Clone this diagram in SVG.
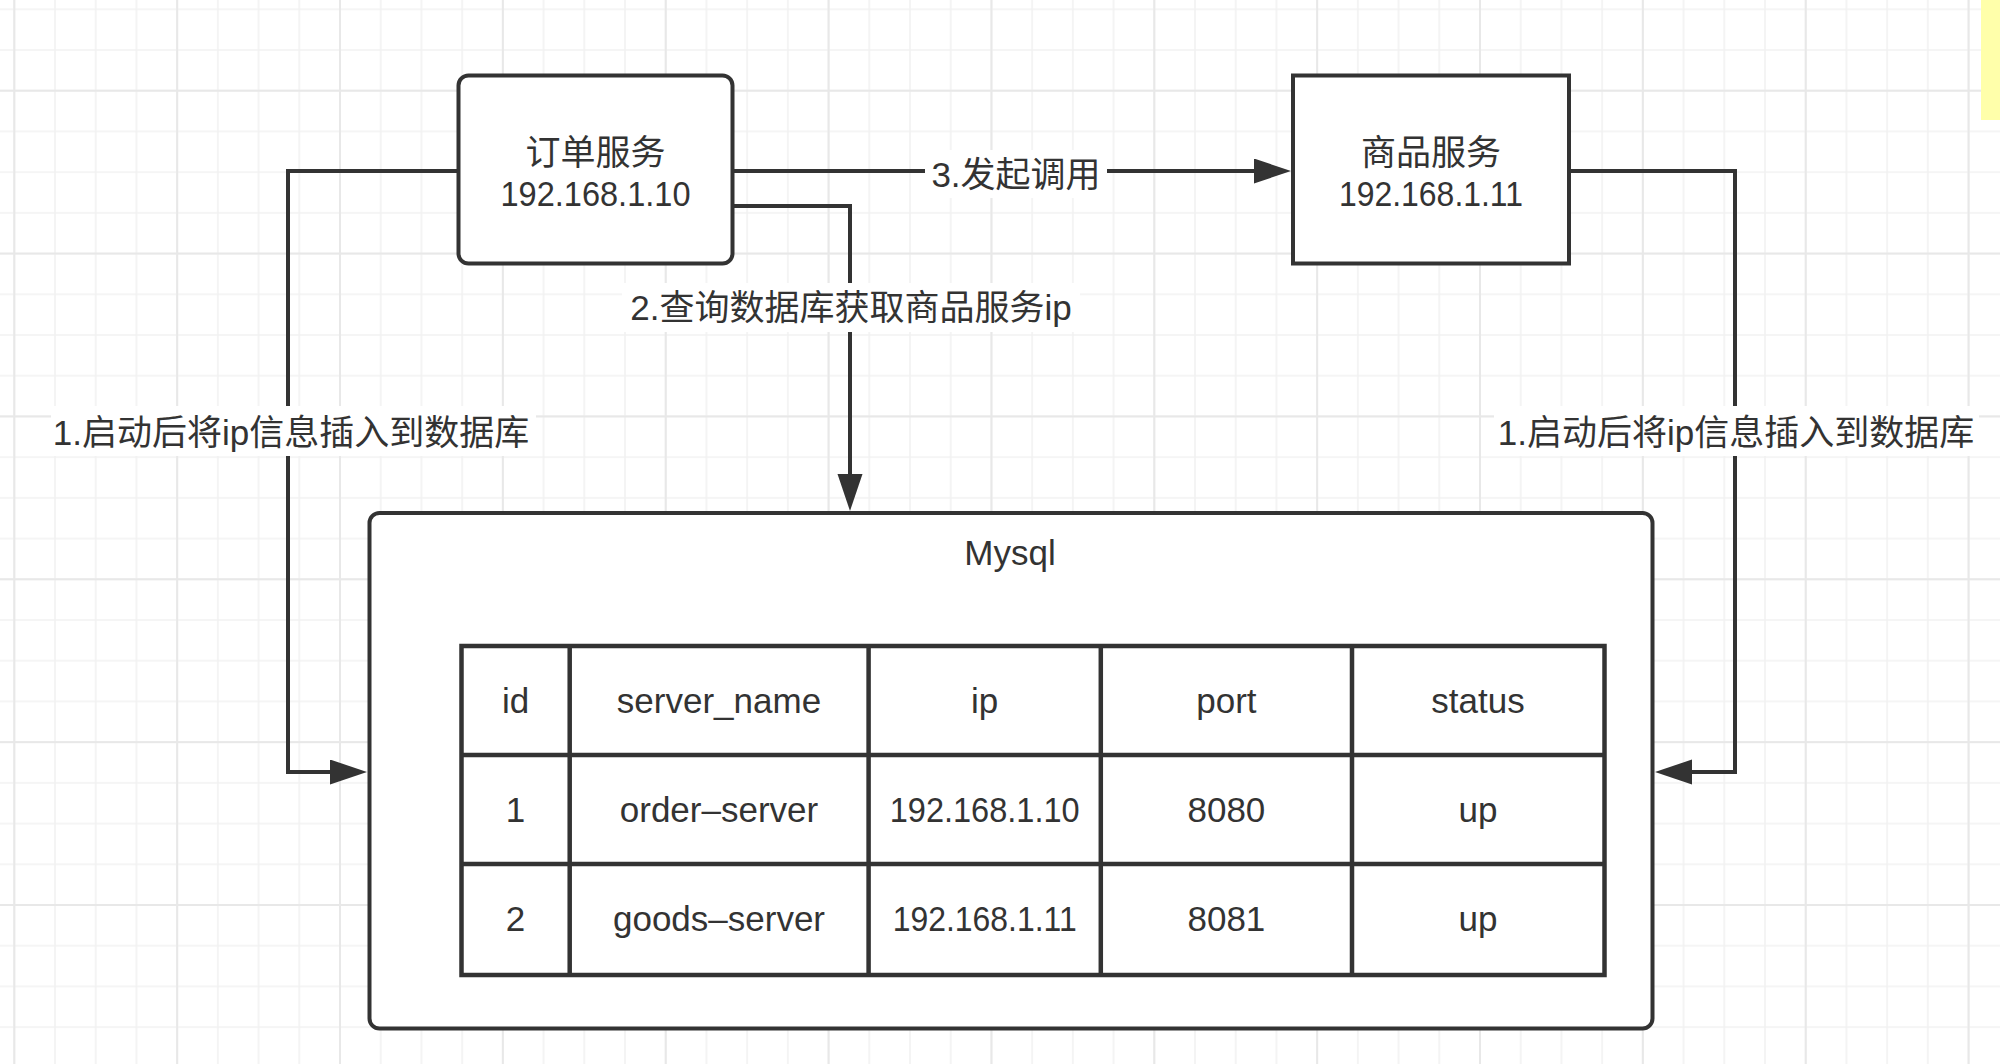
<svg xmlns="http://www.w3.org/2000/svg" width="2000" height="1064" viewBox="0 0 2000 1064">
<defs>
<style>
.t{font-family:"Liberation Sans","Noto Sans CJK SC",sans-serif;font-size:35px;fill:#333333;text-anchor:middle}
.box{fill:#ffffff;stroke:#333333;stroke-width:4}
.conn{fill:none;stroke:#333333;stroke-width:4}
.lbl{fill:#ffffff}
.grid{fill:none;stroke:#333333;stroke-width:4.5}
</style>
<pattern id="gMinor" patternUnits="userSpaceOnUse" x="13.3" y="8.3" width="40.714" height="40.714">
<path d="M1 0V40.714M0 1H40.714" fill="none" stroke="#f2f2f2" stroke-width="1.6"/>
</pattern>
<pattern id="gMajor" patternUnits="userSpaceOnUse" x="13.3" y="-73.157" width="162.857" height="162.857">
<path d="M1 0V162.857M0 1H162.857" fill="none" stroke="#e8e8e8" stroke-width="2"/>
</pattern>
<marker id="arrow" markerUnits="userSpaceOnUse" markerWidth="40" markerHeight="26" refX="2" refY="12.5" orient="auto" viewBox="0 0 40 26">
<path d="M0 0L37 12.5L0 25Z" fill="#333333"/>
</marker>
</defs>
<rect x="0" y="0" width="2000" height="1064" fill="#ffffff"/>
<rect x="0" y="0" width="2000" height="1064" fill="url(#gMinor)"/>
<rect x="0" y="0" width="2000" height="1064" fill="url(#gMajor)"/>
<rect x="1981" y="0" width="19" height="120" fill="#ffffaa"/>

<g id="connectors">
<path class="conn" d="M458 171H288V772H332" marker-end="url(#arrow)"/>
<path class="conn" d="M732 171H1256" marker-end="url(#arrow)"/>
<path class="conn" d="M732 206H850V476" marker-end="url(#arrow)"/>
<path class="conn" d="M1569 171H1735V772H1690" marker-end="url(#arrow)"/>
<g id="label-insert-left">
<rect class="lbl" x="51" y="406" width="485" height="50"/>
<text class="t" x="291" y="445">1.启动后将ip信息插入到数据库</text>
</g>
<g id="label-query">
<rect class="lbl" x="622" y="283" width="458" height="49"/>
<text class="t" x="851" y="320">2.查询数据库获取商品服务ip</text>
</g>
<g id="label-call">
<rect class="lbl" x="925" y="150" width="182" height="48"/>
<text class="t" x="1016" y="187">3.发起调用</text>
</g>
<g id="label-insert-right">
<rect class="lbl" x="1494" y="406" width="485" height="50"/>
<text class="t" x="1736" y="445">1.启动后将ip信息插入到数据库</text>
</g>
</g>

<g id="node-order">
<rect class="box" x="458.5" y="75.5" width="274" height="188" rx="10" ry="10"/>
<text class="t" x="595.5" y="165">订单服务</text>
<text class="t" x="595.5" y="205.5" textLength="190" lengthAdjust="spacingAndGlyphs">192.168.1.10</text>
</g>

<g id="node-goods">
<rect class="box" x="1293" y="75.5" width="276" height="188"/>
<text class="t" x="1431" y="165">商品服务</text>
<text class="t" x="1431" y="205.5" textLength="184" lengthAdjust="spacingAndGlyphs">192.168.1.11</text>
</g>

<g id="node-mysql">
<rect class="box" x="369.5" y="513" width="1283" height="515.5" rx="10" ry="10"/>
<text class="t" x="1010" y="565">Mysql</text>
<g id="table">
<rect class="grid" x="461.5" y="646" width="1143" height="329" fill="#ffffff"/>
<path class="grid" d="M461.5 755H1604.5M461.5 864H1604.5M569.7 646V975M868.6 646V975M1100.8 646V975M1352 646V975"/>
<text class="t" x="515.6" y="713">id</text>
<text class="t" x="719" y="713">server_name</text>
<text class="t" x="984.7" y="713">ip</text>
<text class="t" x="1226.4" y="713">port</text>
<text class="t" x="1478" y="713">status</text>
<text class="t" x="515.6" y="822">1</text>
<text class="t" x="719" y="822">order–server</text>
<text class="t" x="984.7" y="822" textLength="190" lengthAdjust="spacingAndGlyphs">192.168.1.10</text>
<text class="t" x="1226.4" y="822">8080</text>
<text class="t" x="1478" y="822">up</text>
<text class="t" x="515.6" y="931">2</text>
<text class="t" x="719" y="931">goods–server</text>
<text class="t" x="984.7" y="931" textLength="184" lengthAdjust="spacingAndGlyphs">192.168.1.11</text>
<text class="t" x="1226.4" y="931">8081</text>
<text class="t" x="1478" y="931">up</text>
</g>
</g>
</svg>
